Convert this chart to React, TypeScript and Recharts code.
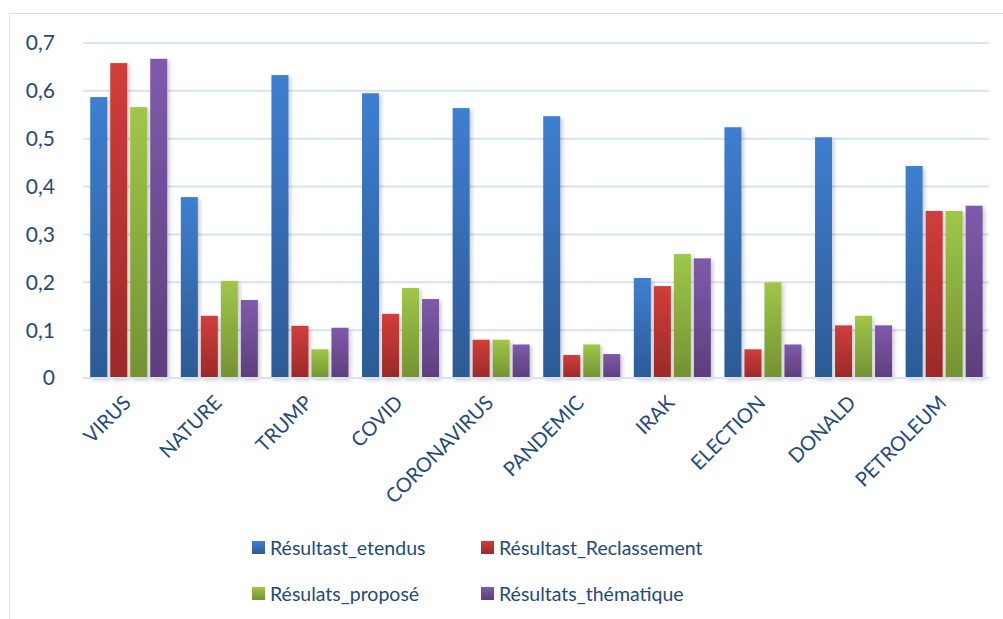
import React from "react";
import { BarChart, Bar, XAxis, YAxis, CartesianGrid, Legend } from "recharts";

const categories = ["VIRUS", "NATURE", "TRUMP", "COVID", "CORONAVIRUS", "PANDEMIC", "IRAK", "ELECTION", "DONALD", "PETROLEUM"];
const etendus = [0.587, 0.378, 0.633, 0.595, 0.564, 0.547, 0.209, 0.524, 0.503, 0.443];
const reclassement = [0.658, 0.13, 0.109, 0.134, 0.08, 0.048, 0.192, 0.06, 0.11, 0.349];
const propose = [0.566, 0.203, 0.06, 0.188, 0.08, 0.07, 0.259, 0.2, 0.13, 0.349];
const thematique = [0.667, 0.163, 0.105, 0.165, 0.07, 0.05, 0.25, 0.07, 0.11, 0.36];
const yTicks = [0, 0.1, 0.2, 0.3, 0.4, 0.5, 0.6, 0.7];

const series = [
  { key: "etendus", name: "Résultast_etendus", top: "#3e7fd1", bottom: "#2c5a94" },
  { key: "reclassement", name: "Résultast_Reclassement", top: "#d23d3a", bottom: "#9a2a29" },
  { key: "propose", name: "Résulats_proposé", top: "#9fc749", bottom: "#739232" },
  { key: "thematique", name: "Résultats_thématique", top: "#7f5aab", bottom: "#5d3f7c" },
];

const data = categories.map((name, i) => ({
  name,
  etendus: etendus[i],
  reclassement: reclassement[i],
  propose: propose[i],
  thematique: thematique[i],
}));

const textColor = "#234a7c";
const font = "Lato, 'Noto Sans', sans-serif";

//========== rotated category label ===========
const CategoryTick = (props: any) => {
  const { x, y, payload } = props;
  return (
    <g transform={`translate(${x + 4},${y + 26}) rotate(-45)`}>
      <text x={0} y={0} textAnchor="end" fill={textColor} fontSize={20} fontFamily={font}>
        {payload.value}
      </text>
    </g>
  );
};

const BarShape = (props: any) => {
  const { x, y, width, height, fill } = props;
  if (!height || height <= 0) return null;
  return <rect x={x} y={y} width={width} height={height} fill={fill} filter="url(#barShadow)" />;
};

const LegendBox = () => (
  <div
    style={{
      display: "grid",
      gridTemplateColumns: "229px 260px",
      rowGap: 20,
      fontFamily: font,
      fontSize: 19.5,
      color: textColor,
    }}
  >
    {series.map((s) => (
      <div key={s.key} style={{ display: "flex", alignItems: "center", height: 26 }}>
        <span
          style={{
            display: "inline-block",
            width: 13,
            height: 13,
            marginRight: 5,
            background: `linear-gradient(${s.top}, ${s.bottom})`,
          }}
        />
        {s.name}
      </div>
    ))}
  </div>
);

export default function App() {
  return (
    <div style={{ position: "absolute", left: 0, top: 0, width: 1003, height: 619, background: "#fff" }}>
      {/*========= chart frame =========*/}
      <div
        style={{
          position: "absolute",
          left: 9,
          top: 13,
          width: 1000,
          height: 620,
          borderTop: "1.5px solid #d3e1f3",
          borderLeft: "1.5px solid #d3e1f3",
        }}
      />
      <BarChart
        width={1003}
        height={619}
        data={data}
        margin={{ top: 43, right: 14, left: 0, bottom: 0 }}
        barCategoryGap="8%"
        barGap={3}
        style={{ position: "absolute", left: 0, top: 0 }}
      >
        <defs>
          {series.map((s) => (
            <linearGradient key={s.key} id={`grad-${s.key}`} x1="0" y1="0" x2="0" y2="1">
              <stop offset="0%" stopColor={s.top} />
              <stop offset="100%" stopColor={s.bottom} />
            </linearGradient>
          ))}
          <filter id="barShadow" x="-20%" y="-5%" width="150%" height="115%">
            <feDropShadow dx="2" dy="2" stdDeviation="2" floodColor="#000" floodOpacity="0.22" />
          </filter>
        </defs>
        <CartesianGrid vertical={false} stroke="#d6e3f3" strokeWidth={2} />
        <XAxis
          dataKey="name"
          interval={0}
          height={241}
          tickLine={false}
          tickSize={0}
          tickMargin={0}
          axisLine={{ stroke: "#d6e3f3", strokeWidth: 2 }}
          tick={<CategoryTick />}
        />
        <YAxis
          width={83}
          domain={[0, 0.7]}
          ticks={yTicks}
          axisLine={false}
          tickLine={false}
          tickMargin={22}
          tickFormatter={(v: number) => String(v).replace(".", ",")}
          tick={{ fill: textColor, fontSize: 21, fontFamily: font }}
        />
        <Legend
          verticalAlign="middle"
          align="center"
          wrapperStyle={{ top: 534, left: 252, width: 520, height: 80 }}
          content={() => <LegendBox />}
        />
        {series.map((s) => (
          <Bar
            key={s.key}
            dataKey={s.key}
            name={s.name}
            fill={`url(#grad-${s.key})`}
            shape={<BarShape />}
            isAnimationActive={false}
          />
        ))}
      </BarChart>
    </div>
  );
}
